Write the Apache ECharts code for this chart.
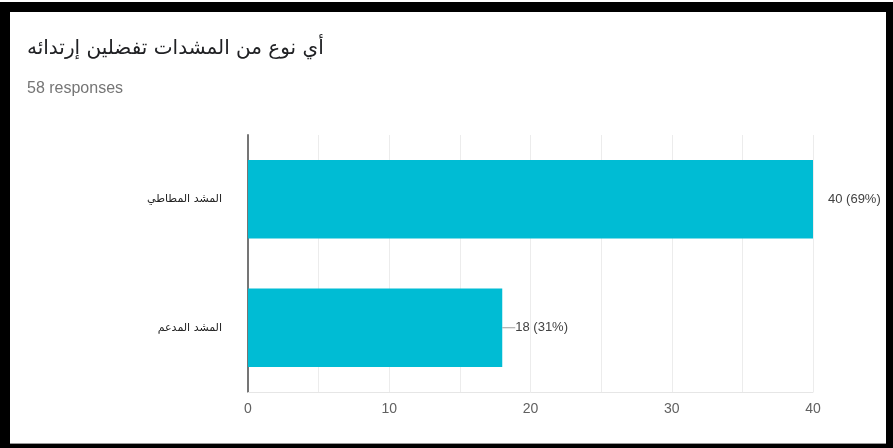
<!DOCTYPE html>
<html><head><meta charset="utf-8">
<script src="https://cdn.jsdelivr.net/npm/echarts@6/dist/echarts.min.js"></script>
<style>
html,body{margin:0;padding:0;background:#000;width:893px;height:448px;overflow:hidden;}
#top{position:absolute;left:0;top:0;width:893px;height:2px;background:#fff;}
#chart{position:absolute;left:10px;top:12px;width:876px;height:431px;background:#fff;border-bottom:1px solid #999;}
</style></head>
<body><div id="top"></div><div id="chart"></div>
<script>
const titleText = 'أي نوع من المشدات تفضلين إرتدائه';
const subText = '58 responses';
const categories = ['المشد المطاطي', 'المشد المدعم'];
const counts = [40, 18];
const percents = [69, 31];
const xTicks = [0, 10, 20, 30, 40];

const FONT = 'Liberation Sans, Arial, sans-serif';
const chart = echarts.init(document.getElementById('chart'));
chart.setOption({
  backgroundColor: '#fff',
  animation: false,
  title: [
    { text: titleText, left: 12, top: 22, textStyle: { fontSize: 20, fontWeight: 'normal', color: '#202124', fontFamily: 'DejaVu Sans, sans-serif' } },
    { text: subText, left: 12, top: 64, textStyle: { fontSize: 16, fontWeight: 'normal', color: '#757575', fontFamily: FONT } }
  ],
  grid: { left: 238, right: 73, top: 123, bottom: 51, containLabel: false },
  xAxis: {
    type: 'value', min: 0, max: 40, interval: 5,
    axisLine: { show: true, lineStyle: { color: '#e6e6e6' } },
    axisTick: { show: false },
    splitLine: { show: true, lineStyle: { color: '#ececec', width: 1 } },
    axisLabel: {
      margin: 10, fontSize: 14, color: '#616161', fontFamily: FONT,
      formatter: v => (xTicks.indexOf(v) >= 0 ? String(v) : '')
    }
  },
  yAxis: {
    type: 'category', data: categories, inverse: true,
    axisLine: { show: true, lineStyle: { color: '#757575', width: 2 } },
    axisTick: { show: false },
    axisLabel: { margin: 26, fontSize: 11, color: '#222', fontFamily: 'DejaVu Sans, sans-serif' }
  },
  series: [{
    type: 'bar',
    barWidth: '61%',
    itemStyle: { color: '#00bcd4' },
    data: counts.map((v, i) => ({
      value: v,
      label: i === 0
        ? { show: true, position: 'right', distance: 15, formatter: p => p.value + ' (' + percents[p.dataIndex] + '%)', fontSize: 13, color: '#424242', fontFamily: FONT }
        : { show: true, position: 'right', distance: 0, formatter: p => '{ln| }' + p.value + ' (' + percents[p.dataIndex] + '%)', fontSize: 13, color: '#424242', fontFamily: FONT,
            rich: { ln: { width: 13, height: 1, backgroundColor: '#9e9e9e' } } }
    }))
  }]
});
</script></body></html>
